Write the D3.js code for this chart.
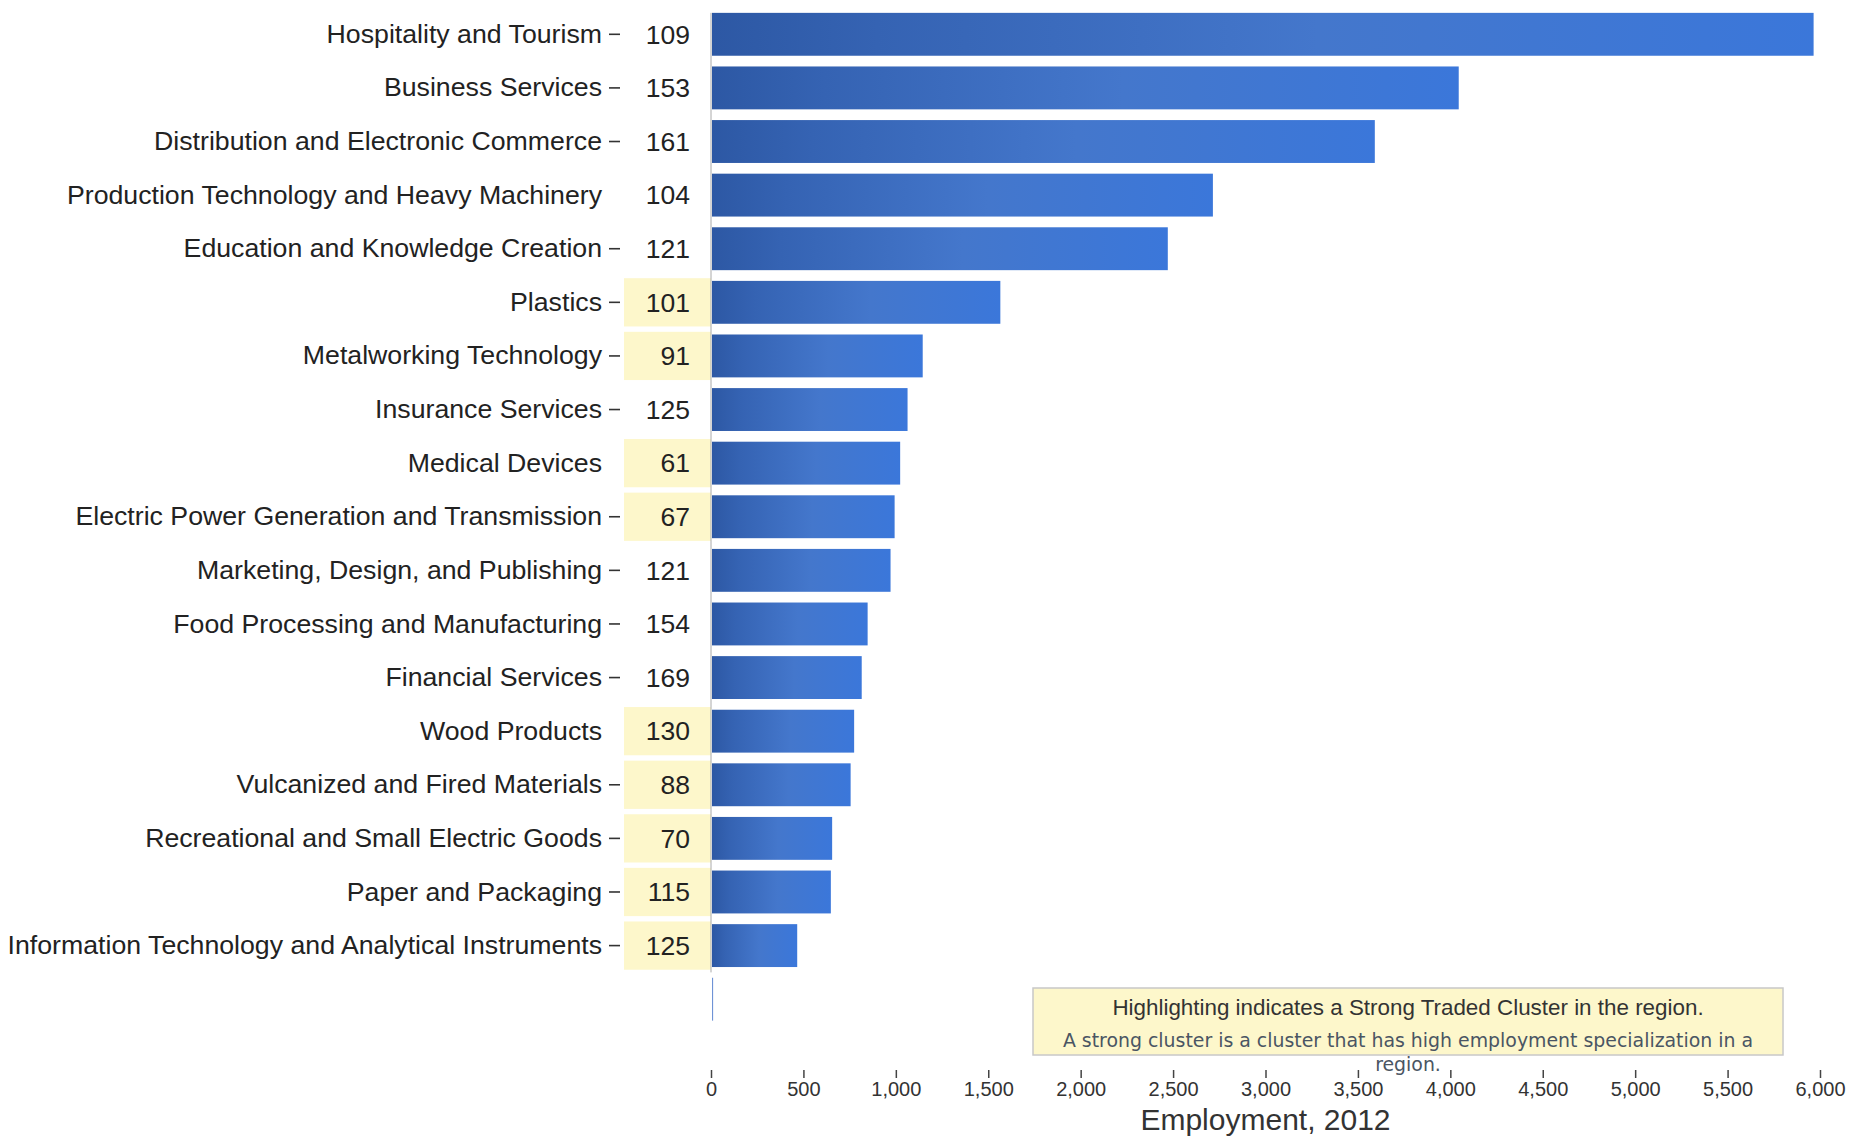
<!DOCTYPE html>
<html>
<head>
<meta charset="utf-8">
<script src="https://cdn.jsdelivr.net/npm/d3@7"></script>
<style>
    body { margin: 0; background: #fff; }
    text { font-family: "Liberation Sans", Arial, sans-serif; }
</style>
</head>
<body>
<div id="chart"></div>
<script>
// cluster names, top to bottom (last row is an empty band)
const categories = [
    "Hospitality and Tourism",
    "Business Services",
    "Distribution and Electronic Commerce",
    "Production Technology and Heavy Machinery",
    "Education and Knowledge Creation",
    "Plastics",
    "Metalworking Technology",
    "Insurance Services",
    "Medical Devices",
    "Electric Power Generation and Transmission",
    "Marketing, Design, and Publishing",
    "Food Processing and Manufacturing",
    "Financial Services",
    "Wood Products",
    "Vulcanized and Fired Materials",
    "Recreational and Small Electric Goods",
    "Paper and Packaging",
    "Information Technology and Analytical Instruments",
    ""
];
// employment, 2012
const employment = [5960, 4040, 3586, 2710, 2466, 1560, 1140, 1058, 1018, 988, 966, 842, 810, 769, 750, 650, 643, 461, 6];
// number shown next to each label
const counts = [109, 153, 161, 104, 121, 101, 91, 125, 61, 67, 121, 154, 169, 130, 88, 70, 115, 125, null];
// strong traded cluster flag (highlighted)
const strong = [false, false, false, false, false, true, true, false, true, true, false, false, false, true, true, true, true, true, false];
// labels drawn without the small tick dash
const noTick = ["Production Technology and Heavy Machinery", "Medical Devices", "Wood Products", ""];
const xTicks = [0, 500, 1000, 1500, 2000, 2500, 3000, 3500, 4000, 4500, 5000, 5500, 6000];

const legendTitle = "Highlighting indicates a Strong Traded Cluster in the region.";
const legendNote = ["A strong cluster is a cluster that has high employment specialization in a", "region."];

let width = 1853, height = 1136;

let svg = d3.select("#chart").append("svg")
    .attr("width", width)
    .attr("height", height);

// bar gradient
let grad = svg.append("defs").append("linearGradient")
    .attr("id", "barGrad")
    .attr("x1", "0%").attr("x2", "100%")
    .attr("y1", "0%").attr("y2", "0%");
grad.append("stop").attr("offset", "0%").attr("stop-color", "#2d58a4");
grad.append("stop").attr("offset", "15%").attr("stop-color", "#3563b3");
grad.append("stop").attr("offset", "55%").attr("stop-color", "#4477cc");
grad.append("stop").attr("offset", "100%").attr("stop-color", "#3b77da");

// scales
let x = d3.scaleLinear()
    .domain([0, 6000])
    .range([711, 1820]);

let y = d3.scaleBand()
    .domain(d3.range(categories.length))
    .range([7.5, 1026])
    .paddingInner(0.2)
    .paddingOuter(0.1);

let step = y.step();

// highlight boxes behind numbers
svg.append("g").selectAll("rect")
    .data(d3.range(categories.length).filter(i => strong[i]))
    .enter().append("rect")
    .attr("x", 624)
    .attr("width", x(0) - 624)
    .attr("y", i => y(i) + y.bandwidth() / 2 - step * 0.45)
    .attr("height", step * 0.9)
    .attr("fill", "#fdf7cb");

// y axis with category labels
let yAxis = d3.axisLeft(y)
    .tickSize(11)
    .tickPadding(7)
    .tickFormat(i => categories[i]);

let yAxisG = svg.append("g")
    .attr("transform", "translate(620,0)")
    .call(yAxis);
yAxisG.select(".domain").remove();
yAxisG.selectAll(".tick line")
    .attr("stroke", "#333")
    .attr("stroke-width", 1.6)
    .attr("opacity", i => noTick.includes(categories[i]) ? 0 : 1);
yAxisG.selectAll(".tick text")
    .attr("font-size", 26.7)
    .attr("fill", "#222")
    .attr("font-family", "'Liberation Sans', Arial, sans-serif");

// numbers column
svg.append("g").selectAll("text")
    .data(d3.range(categories.length).filter(i => counts[i] !== null))
    .enter().append("text")
    .attr("x", 690)
    .attr("y", i => y(i) + y.bandwidth() / 2)
    .attr("dy", "0.35em")
    .attr("text-anchor", "end")
    .attr("font-size", 26.5)
    .attr("fill", "#222")
    .text(i => counts[i]);

// bars
svg.append("g").selectAll("rect")
    .data(d3.range(categories.length))
    .enter().append("rect")
    .attr("x", x(0) + 1)
    .attr("y", i => y(i))
    .attr("width", i => x(employment[i]) - x(0))
    .attr("height", y.bandwidth())
    .attr("fill", i => categories[i] === "" ? "#6f93d6" : "url(#barGrad)");

// thin baseline next to the bars
svg.append("line")
    .attr("x1", x(0)).attr("x2", x(0))
    .attr("y1", y(0))
    .attr("y2", y(categories.length - 2) + y.bandwidth() + step * 0.1)
    .attr("stroke", "#aaa")
    .attr("stroke-width", 1);

// x axis
let xAxis = d3.axisBottom(x)
    .tickValues(xTicks)
    .tickFormat(d3.format(","))
    .tickSize(8)
    .tickPadding(4);

let xAxisG = svg.append("g")
    .attr("transform", "translate(0,1070)")
    .call(xAxis);
xAxisG.select(".domain").remove();
xAxisG.selectAll(".tick line").attr("stroke", "#444").attr("stroke-width", 1.5);
xAxisG.selectAll(".tick text")
    .attr("font-size", 20)
    .attr("fill", "#333")
    .attr("font-family", "'Liberation Sans', Arial, sans-serif");

// x axis title
svg.append("text")
    .attr("x", (x.range()[0] + x.range()[1]) / 2)
    .attr("y", 1130)
    .attr("text-anchor", "middle")
    .attr("font-size", 30)
    .attr("fill", "#333")
    .text("Employment, 2012");

// legend box
let legend = svg.append("g");
legend.append("rect")
    .attr("x", 1033).attr("y", 988)
    .attr("width", 750).attr("height", 67)
    .attr("fill", "#fdf7cb")
    .attr("stroke", "#c8c8c8")
    .attr("stroke-width", 1.5);
legend.append("text")
    .attr("x", 1408).attr("y", 1015)
    .attr("text-anchor", "middle")
    .attr("font-size", 22.4)
    .attr("fill", "#333")
    .text(legendTitle);
legend.selectAll(".note")
    .data(legendNote)
    .enter().append("text")
    .attr("class", "note")
    .attr("x", 1408)
    .attr("y", (d, i) => 1047 + i * 24)
    .attr("text-anchor", "middle")
    .attr("font-size", 18.9)
    .attr("fill", "#4a5563")
    .style("font-family", "'DejaVu Sans', Verdana, sans-serif")
    .text(d => d);
</script>
</body>
</html>
